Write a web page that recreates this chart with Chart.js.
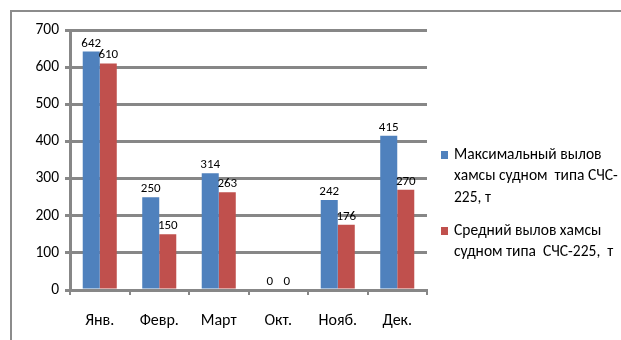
<!DOCTYPE html>
<html>
<head>
<meta charset="utf-8">
<script src="https://cdn.jsdelivr.net/npm/chart.js@4.4.1/dist/chart.umd.min.js"></script>
<style>
  html, body { margin: 0; padding: 0; background: #fff; }
  #wrap { width: 621px; height: 340px; position: relative; }
</style>
</head>
<body>
<div id="wrap"><canvas id="c" width="621" height="340"></canvas></div>
<script>
// Месяцы промысла
const categories = ['Янв.', 'Февр.', 'Март', 'Окт.', 'Нояб.', 'Дек.'];
// Максимальный вылов хамсы, т
const maxCatch = [642, 250, 314, 0, 242, 415];
// Средний вылов хамсы, т
const avgCatch = [610, 150, 263, 0, 176, 270];
// Подписи оси значений
const yTicks = [0, 100, 200, 300, 400, 500, 600, 700];
// Названия рядов, разбитые на строки легенды
const maxLabelLines = ['Максимальный вылов', 'хамсы судном  типа СЧС-', '225, т'];
const avgLabelLines = ['Средний вылов хамсы', 'судном типа  СЧС-225,  т'];

const FONT = "Carlito, 'Liberation Sans Narrow', 'DejaVu Sans Condensed', sans-serif";
const GRID = '#878787';

const frame = {
  id: 'frame',
  beforeDraw(chart) {
    const ctx = chart.ctx;
    ctx.save();
    ctx.fillStyle = '#fff';
    ctx.fillRect(0, 0, chart.width, chart.height);
    ctx.strokeStyle = '#8c8c8c';
    ctx.lineWidth = 2;
    ctx.beginPath();
    ctx.moveTo(11, chart.height);
    ctx.lineTo(11, 11);
    ctx.lineTo(chart.width, 11);
    ctx.stroke();
    ctx.restore();
  }
};

const valueLabels = {
  id: 'valueLabels',
  afterDatasetsDraw(chart) {
    const ctx = chart.ctx;
    ctx.save();
    ctx.font = '13px ' + FONT;
    ctx.fillStyle = '#000';
    ctx.textAlign = 'center';
    ctx.textBaseline = 'alphabetic';
    chart.data.datasets.forEach((ds, i) => {
      const meta = chart.getDatasetMeta(i);
      meta.data.forEach((bar, j) => {
        ctx.fillText(String(ds.data[j]), bar.x, bar.y - 5);
      });
    });
    ctx.restore();
  }
};

const sideLegend = {
  id: 'sideLegend',
  afterDraw(chart) {
    const ctx = chart.ctx;
    ctx.save();
    ctx.font = '15.5px ' + FONT;
    ctx.fillStyle = '#000';
    ctx.textBaseline = 'middle';
    const groups = [
      { lines: maxLabelLines, color: chart.data.datasets[0].backgroundColor, y: 155 },
      { lines: avgLabelLines, color: chart.data.datasets[1].backgroundColor, y: 231 }
    ];
    groups.forEach(g => {
      ctx.fillStyle = g.color;
      ctx.fillRect(441, g.y - 4, 7, 8);
      ctx.fillStyle = '#000';
      g.lines.forEach((t, k) => ctx.fillText(t, 454, g.y + k * 21.5));
    });
    ctx.restore();
  }
};

new Chart(document.getElementById('c'), {
  type: 'bar',
  data: {
    labels: categories,
    datasets: [
      { label: maxLabelLines.join(' '), data: maxCatch, backgroundColor: '#4f81bd',
        categoryPercentage: 0.572, barPercentage: 1.0 },
      { label: avgLabelLines.join(' '), data: avgCatch, backgroundColor: '#c0504d',
        categoryPercentage: 0.572, barPercentage: 1.0 }
    ]
  },
  options: {
    responsive: false,
    animation: false,
    events: [],
    layout: { padding: { left: 12, right: 194, top: 30, bottom: 0 } },
    plugins: { legend: { display: false }, tooltip: { enabled: false } },
    scales: {
      x: {
        afterFit(s) { s.height = 50; },
        border: { display: true, color: GRID, width: 3 },
        grid: { drawOnChartArea: false, drawTicks: true, tickLength: 5, color: GRID, lineWidth: 2, offset: true },
        ticks: { color: '#000', font: { family: FONT, size: 16 }, padding: 16, maxRotation: 0 }
      },
      y: {
        min: 0, max: 700,
        afterFit(s) { s.width = 58; },
        afterBuildTicks(s) { s.ticks = yTicks.map(v => ({ value: v })); },
        border: { display: true, color: GRID, width: 3 },
        grid: { color: GRID, lineWidth: 3, tickLength: 5, drawTicks: true },
        ticks: { color: '#000', font: { family: FONT, size: 15.5 }, padding: 6 }
      }
    }
  },
  plugins: [frame, valueLabels, sideLegend]
});
</script>
</body>
</html>
